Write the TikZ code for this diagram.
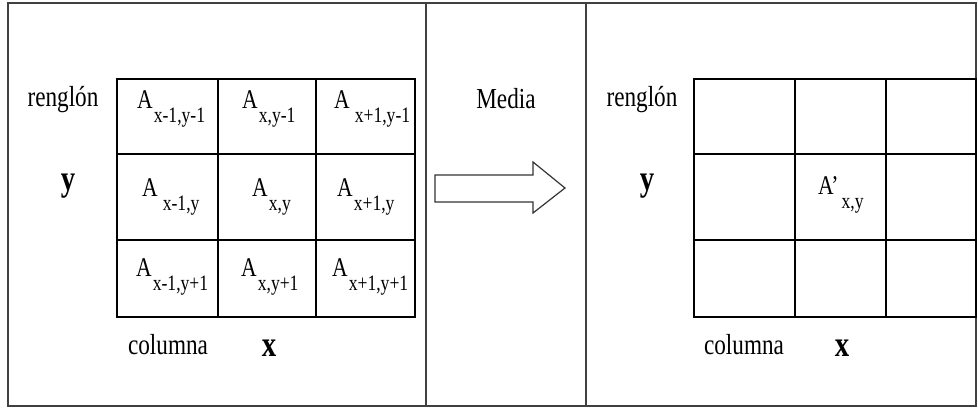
\documentclass[tikz,border=0pt]{standalone}
\usepackage{fontspec}
\setmainfont[FakeStretch=0.8]{Liberation Serif}
\usepackage{tikz}
\usetikzlibrary{positioning, calc}

% cell entry: letter with a lowered index
\newcommand{\cellA}[2]{#1\kern1pt\lower14pt\hbox{\fontsize{22}{22}\selectfont #2}}

\begin{document}
\begin{tikzpicture}[
    x=1pt, y=-1pt,
    frameLine/.style={draw=black!75, line width=1.2pt},
    gridLine/.style={draw=black, line width=1.3pt},
    thickLine/.style={draw=black, line width=2.4pt},
    axisLabel/.style={font=\fontsize{29}{29}\selectfont, inner sep=0pt},
    axisVar/.style={font=\fontsize{36}{36}\selectfont\bfseries, inner sep=0pt},
    cellText/.style={font=\fontsize{27}{27}\selectfont, inner sep=0pt, anchor=base west}
]
\useasboundingbox (0,0) rectangle (978,408);

% Frame and panels
\draw[frameLine] (8,3) rectangle (976,406);
\draw[frameLine] (426,3) -- (426,406);
\draw[frameLine] (586,3) -- (586,406);

% Input window
\draw[gridLine] (117,79) rectangle (415,317);
\draw[gridLine] (218,79) -- (218,317);
\draw[gridLine] (316,79) -- (316,317);
\draw[gridLine] (117,154) -- (415,154);
\draw[thickLine] (117,240) -- (415,240);

\node[axisLabel] (rowL) at (63,100) {renglón};
\node[axisVar] (yL) at (68,186) {y};
\node[axisLabel] (colL) at (168,345) {columna};
\node[axisVar] (xL) at (269,348) {x};

\node[cellText] (a11) at (137,108) {\cellA{A}{x-1,y-1}};
\node[cellText] (a12) at (242,108) {\cellA{A}{x,y-1}};
\node[cellText] (a13) at (334,108) {\cellA{A}{\kern4pt x+1,y-1}};
\node[cellText] (a21) at (142,196) {\cellA{A}{\kern4pt x-1,y}};
\node[cellText] (a22) at (252,196) {\cellA{A}{x,y}};
\node[cellText] (a23) at (337,196) {\cellA{A}{x+1,y}};
\node[cellText] (a31) at (136,276) {\cellA{A}{x-1,y+1}};
\node[cellText] (a32) at (241,276) {\cellA{A}{x,y+1}};
\node[cellText] (a33) at (332,276) {\cellA{A}{x+1,y+1}};

% Operation
\node[axisLabel] (media) at (506,99) {Media};
\draw[draw=black!80, line width=1.2pt, fill=white]
    (435,175) -- (533,175) -- (533,162) -- (565,188) -- (533,213)
    -- (533,202) -- (435,202) -- cycle;

% Output window
\draw[gridLine] (694,79) rectangle (976,317);
\draw[gridLine] (795,79) -- (795,317);
\draw[gridLine] (886,79) -- (886,317);
\draw[gridLine] (694,154) -- (976,154);
\draw[thickLine] (694,240) -- (976,240);

\node[axisLabel] (rowR) at (642,100) {renglón};
\node[axisVar] (yR) at (647,186) {y};
\node[axisLabel] (colR) at (744,345) {columna};
\node[axisVar] (xR) at (842,348) {x};

\node[cellText] (b22) at (818,194) {\cellA{A’}{\kern2pt x,y}};

\end{tikzpicture}
\end{document}
